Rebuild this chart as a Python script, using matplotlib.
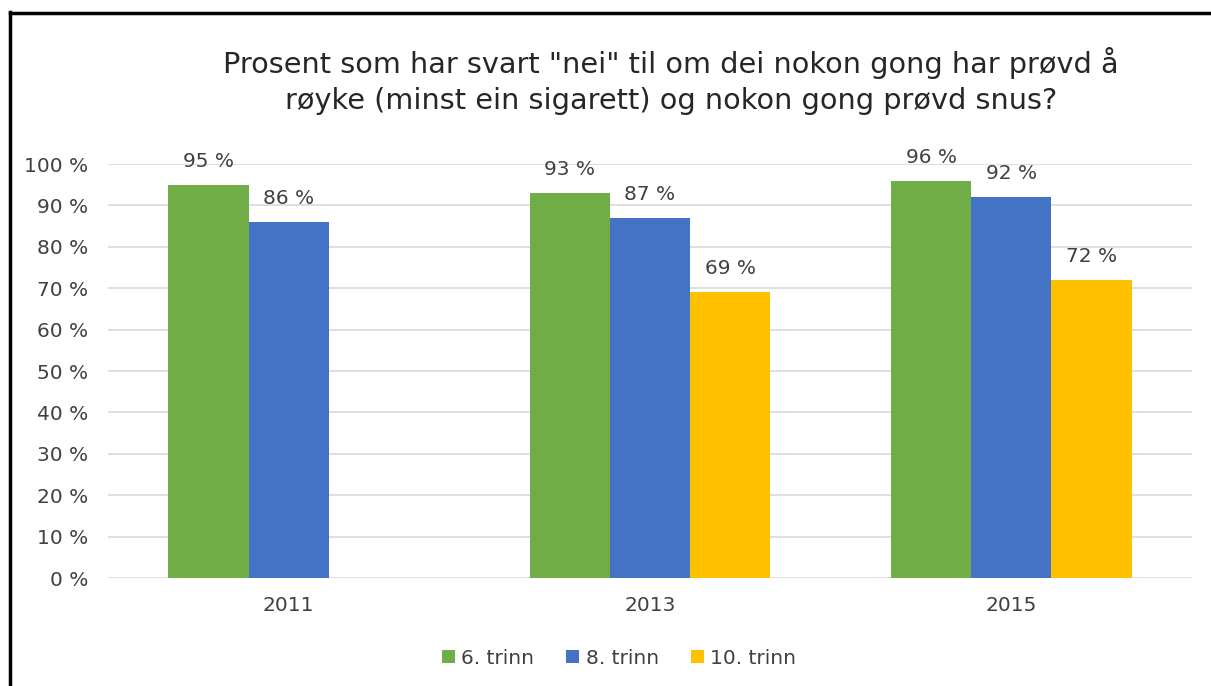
import matplotlib
matplotlib.use("Agg")
import matplotlib.pyplot as plt
from matplotlib.lines import Line2D
from matplotlib.patches import Patch
import numpy as np

# survey years and grade levels
years = ["2011", "2013", "2015"]
grades = ["6. trinn", "8. trinn", "10. trinn"]
# share answering "nei" (percent); 10. trinn was not asked in 2011
trinn6 = [95, 93, 96]
trinn8 = [86, 87, 92]
trinn10 = [None, 69, 72]
colors = ["#70AD47", "#4472C4", "#FFC000"]

title = 'Prosent som har svart "nei" til om dei nokon gong har prøvd å\nrøyke (minst ein sigarett) og nokon gong prøvd snus?'

W, H = 1211, 686
fig = plt.figure(figsize=(W / 100, H / 100), dpi=100)
fig.patch.set_facecolor("white")

ax = fig.add_axes([108 / W, 1 - 578 / H, (1192 - 108) / W, (578 - 164) / H])

x = np.arange(len(years))
w = 0.222
series = [trinn6, trinn8, trinn10]
for i, vals in enumerate(series):
    for j, v in enumerate(vals):
        if v is None:
            continue
        xpos = x[j] + (i - 1) * w
        ax.bar(xpos, v, width=w, color=colors[i], zorder=3)
        ax.annotate(f"{v} %", (xpos, v), xytext=(0, 10), textcoords="offset points",
                    ha="center", va="bottom", fontsize=14.5, color="#404040")

ax.set_xlim(-0.5, 2.5)
ax.set_ylim(0, 100)
ax.set_yticks(range(0, 101, 10))
ax.set_yticklabels([f"{t} %" for t in range(0, 101, 10)])
ax.set_xticks(x)
ax.set_xticklabels(years)
ax.tick_params(axis="both", length=0, labelsize=14.5, labelcolor="#404040")
ax.tick_params(axis="y", pad=14)
ax.tick_params(axis="x", pad=13)
ax.grid(axis="y", color="#d9d9d9", linewidth=1.2, zorder=0)
for s in ax.spines.values():
    s.set_visible(False)

fig.text(671 / W, 1 - 81 / H, title, ha="center", va="center", fontsize=20.7,
         color="#262626", linespacing=1.4)

handles = [Patch(facecolor=c, edgecolor="none") for c in colors]
fig.legend(handles, grades, loc="center", bbox_to_anchor=(619 / W, 1 - 658 / H),
           ncol=3, frameon=False, fontsize=14.5, handlelength=0.65, handleheight=0.65,
           handletextpad=0.3, columnspacing=1.6, labelcolor="#404040")

# frame lines along the left and top edges
fig.add_artist(Line2D([10.5 / W, 10.5 / W], [0, 1 - 12 / H], color="black", linewidth=2.5))
fig.add_artist(Line2D([10.5 / W, 1], [1 - 12.5 / H, 1 - 12.5 / H], color="black", linewidth=2.5))

fig.savefig("out.png", dpi=100)
